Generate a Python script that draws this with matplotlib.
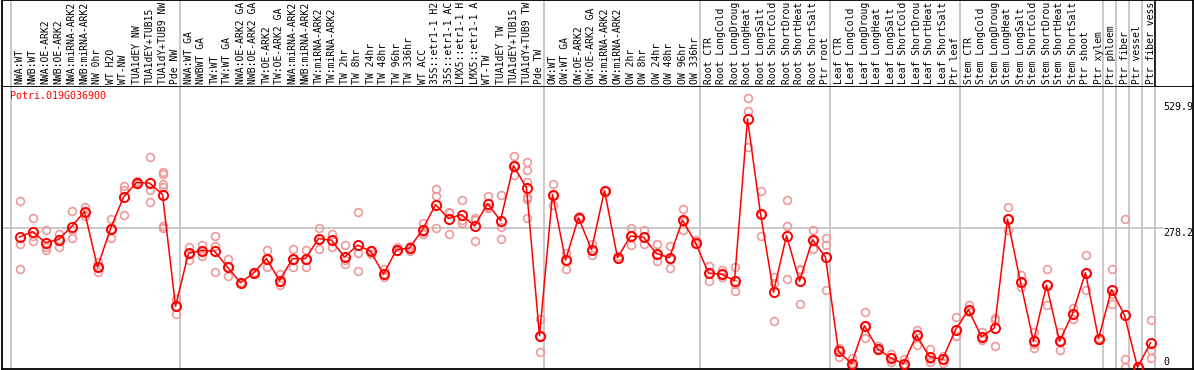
import matplotlib
matplotlib.use("Agg")
import matplotlib.pyplot as plt

gene = "Potri.019G036900"

# labels as visible in the reference header (long ones are cut there)
categories = [
    "NWA:WT", "NWB:WT", "NWA:OE-ARK2", "NWB:OE-ARK2", "NWA:miRNA-ARK2", "NWB:miRNA-ARK2",
    "NW 0hr", "WT H2O", "WT-NW", "TUA1dEY NW", "TUA1dEY+TUB15", "TUA1dY+TUB9 NW", "Pde NW",
    "NWA:WT GA", "NWBWT GA", "TW:WT", "TW:WT GA", "NWA:OE-ARK2 GA", "NWB:OE-ARK2 GA",
    "TW:OE-ARK2", "TW:OE-ARK2 GA", "NWA:miRNA-ARK2", "NWB:miRNA-ARK2", "TW:miRNA-ARK2",
    "TW:miRNA-ARK2", "TW 2hr", "TW 8hr", "TW 24hr", "TW 48hr", "TW 96hr", "TW 336hr",
    "WT ACC", "35S::etr1-1 H2", "35S::etr1-1 AC", "LMX5::etr1-1 H", "LMX5::etr1-1 A",
    "WT-TW", "TUA1dEY TW", "TUA1dEY+TUB15", "TUA1dY+TUB9 TW", "Pde TW",
    "OW:WT", "OW:WT GA", "OW:OE-ARK2", "OW:OE-ARK2 GA", "OW:miRNA-ARK2", "OW:miRNA-ARK2",
    "OW 2hr", "OW 8hr", "OW 24hr", "OW 48hr", "OW 96hr", "OW 336hr",
    "Root CTR", "Root LongCold", "Root LongDroug", "Root LongHeat", "Root LongSalt",
    "Root ShortCold", "Root ShortDrou", "Root ShortHeat", "Root ShortSalt", "Ptr root",
    "Leaf CTR", "Leaf LongCold", "Leaf LongDroug", "Leaf LongHeat", "Leaf LongSalt",
    "Leaf ShortCold", "Leaf ShortDrou", "Leaf ShortHeat", "Leaf ShortSalt", "Ptr leaf",
    "Stem CTR", "Stem LongCold", "Stem LongDroug", "Stem LongHeat", "Stem LongSalt",
    "Stem ShortCold", "Stem ShortDrou", "Stem ShortHeat", "Stem ShortSalt", "Ptr shoot",
    "Ptr xylem", "Ptr phloem", "Ptr fiber", "Ptr vessel", "Ptr fiber vess",
]

# index of first category of each group (last value = end)
group_starts = [0, 13, 41, 53, 63, 73, 84, 85, 86, 87, 88]

means = [
    260, 271, 249, 255, 281, 311, 200, 277, 340, 369, 368, 345, 122,
    228, 233, 232, 200, 169, 188, 217, 173, 217, 217, 257, 254, 220, 244, 232,
    186, 235, 238, 275, 325, 297, 305, 282, 327, 293, 403, 358, 63,
    345, 214, 299, 235, 353, 219, 262, 260, 227, 219, 294, 249,
    188, 186, 173, 496, 307, 150, 263, 172, 255, 220,
    32, 7, 83, 37, 19, 7, 64, 21, 16, 75,
    115, 61, 79, 296, 170, 52, 164, 52, 107, 189, 57,
    155, 104, 0, 49,
]

replicates = [
    [332, 247, 197], [298, 263, 253], [274, 241, 234], [267, 257, 241], [312, 274, 259],
    [321, 310, 302], [211, 191, 200], [297, 259, 277], [362, 354, 305], [373, 366, 370],
    [420, 354, 330], [390, 386, 366, 361, 282, 278], [137, 107, 122],
    [240, 215, 229], [245, 223, 233], [262, 243, 191], [217, 183, 200], [171, 168, 169],
    [191, 188, 186], [234, 201, 217], [186, 164, 170], [236, 200, 217], [234, 201, 217],
    [278, 237, 257], [267, 240, 255], [244, 214, 206], [310, 229, 193], [234, 227, 233],
    [197, 180, 186], [241, 232, 233], [243, 232, 239], [289, 266, 271], [356, 343, 278],
    [311, 267, 308], [334, 288, 294], [299, 253, 294], [343, 320, 318], [345, 281, 256],
    [423, 384, 403], [410, 394, 371, 337, 298, 340], [97, 31, 63],
    [367, 324, 345], [229, 197, 214], [302, 298, 299], [247, 225, 235], [355, 352, 352],
    [223, 217, 219], [278, 244, 262], [275, 247, 260], [247, 213, 224], [242, 199, 217],
    [316, 275, 292], [254, 247, 248],
    [203, 173, 188], [194, 186, 181], [200, 167, 153], [537, 512, 440], [352, 262, 307],
    [181, 92, 168], [334, 282, 176], [197, 126, 194], [275, 237, 255], [258, 245, 154],
    [39, 21, 35], [19, 1, 8], [110, 59, 83], [42, 35, 37], [26, 11, 21],
    [17, 0, 7], [74, 45, 67], [37, 11, 17], [23, 9, 16], [101, 63, 63],
    [124, 111, 115], [71, 54, 61], [99, 42, 94], [320, 274, 296], [184, 161, 170],
    [71, 39, 47], [196, 124, 167], [71, 34, 52], [119, 97, 107], [224, 155, 189],
    [59, 54, 57],
    [196, 126, 147], [296, 16, 0], [0, 0, 0], [95, 35, 18],
]

ytick_values = [0, 278.2, 529.9]
ytick_labels = ["0", "278.2", "529.9"]

# ---------------- layout (pixel based) ----------------
W, H = 1194, 370
DPI = 100
px_left, px_right = 2, 1193
header_top, header_bot = 0, 86
plot_top, plot_bot = 86, 369
x0_px, step_px = 19.5, 13.0          # centre of first category, spacing
zero_px, scale_px = 367.3, 0.5007    # y pixel of value 0, px per unit

def xdata(px):
    return (px - x0_px) / step_px

def ydata(py):
    return (zero_px - py) / scale_px

fig = plt.figure(figsize=(W / DPI, H / DPI), dpi=DPI)
fig.patch.set_facecolor("white")

mono = "DejaVu Sans Mono"
fs = 7.2
grid_c = "#c0c0c0"

ax = fig.add_axes([px_left / W, (H - plot_bot) / H,
                   (px_right - px_left) / W, (plot_bot - plot_top) / H])
hx = fig.add_axes([px_left / W, (H - header_bot) / H,
                   (px_right - px_left) / W, (header_bot - header_top) / H])

for a in (ax, hx):
    a.set_xlim(xdata(px_left), xdata(px_right))
    a.set_xticks([])
    a.set_yticks([])
    for s in a.spines.values():
        s.set_color("black")
        s.set_linewidth(1.3)
ax.set_ylim(ydata(plot_bot), ydata(plot_top))
hx.set_ylim(0, 1)
hx.spines["bottom"].set_visible(False)

# group separators
for g in group_starts:
    xg = g - 0.65
    ax.axvline(xg, color=grid_c, lw=1.2, zorder=0)
    hx.axvline(xg, color="black" if g == len(categories) else grid_c,
               lw=1.2, zorder=0)

# horizontal gridline at middle tick
x_lab_frac = (1163 - px_left) / (px_right - px_left)
ax.axhline(ytick_values[1], xmin=0, xmax=x_lab_frac, color=grid_c, lw=1.2, zorder=0)

# replicate points
rx, ry = [], []
for i, reps in enumerate(replicates):
    for v in reps:
        rx.append(i)
        ry.append(v)
ax.plot(rx, ry, linestyle="none", marker="o", markersize=5.6,
        markerfacecolor="none", markeredgecolor="#ee9a9a", markeredgewidth=1.2,
        zorder=2, clip_on=False)

# mean line + markers
xs = list(range(len(categories)))
ax.plot(xs, means, color="#ff0000", lw=1.1, zorder=3,
        marker="o", markersize=6.6, markerfacecolor="none",
        markeredgecolor="#ff0000", markeredgewidth=1.4, clip_on=False)

# y labels
for v, lab in zip(ytick_values, ytick_labels):
    va = "bottom" if v == 0 else "top"
    yy = v + 1.5 if v == 0 else v
    ax.text(x_lab_frac, yy, lab, transform=ax.get_yaxis_transform(),
            ha="left", va=va, fontsize=fs, family=mono, color="black", zorder=5)

# gene title
ax.text(xdata(10), 0.963, gene, transform=ax.get_xaxis_transform(),
        ha="left", va="center", fontsize=fs, family=mono, color="#ff0000", zorder=5)

# category labels in header
lab_bottom = (header_bot - 84) / (header_bot - header_top)
for i, c in enumerate(categories):
    hx.text(i, lab_bottom, c, rotation=90, ha="center", va="bottom",
            fontsize=7.0, family=mono, color="black", clip_on=True)

fig.savefig("out.png", dpi=DPI, facecolor="white")
